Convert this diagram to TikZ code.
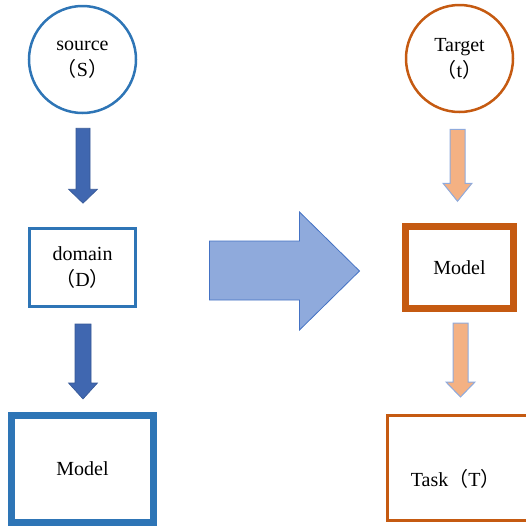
\documentclass[tikz,border=0pt]{standalone}
\usepackage{fontspec}
\setmainfont{Liberation Serif}
\newfontfamily\cjk{Noto Sans CJK SC}
\usetikzlibrary{calc}

\definecolor{srcblue}{HTML}{2E75B6}
\definecolor{darkarrow}{HTML}{4067B0}
\definecolor{bigarrow}{HTML}{8FAADC}
\definecolor{bigedge}{HTML}{4472C4}
\definecolor{tgtorange}{HTML}{C55A11}
\definecolor{lightorange}{HTML}{F4B183}

\newcommand{\lp}{{\cjk （}}
\newcommand{\rp}{{\cjk ）}}

\tikzset{
  every node/.style={font=\fontsize{20}{26}\selectfont, align=center},
  circ/.style={circle, draw, line width=2.5pt, minimum size=107pt, inner sep=0pt},
  thinbox/.style={rectangle, draw, line width=3pt, inner sep=0pt},
  thickbox/.style={rectangle, draw, line width=7pt, inner sep=0pt},
  darrow/.style={fill=darkarrow, draw=darkarrow!85!black, line width=0.6pt},
  oarrow/.style={fill=lightorange, draw=bigarrow, line width=1pt},
  transfer/.style={fill=bigarrow, draw=bigedge, line width=0.8pt},
}

\begin{document}
\begin{tikzpicture}[x=1pt, y=-1pt]
    \useasboundingbox (0,0) rectangle (526,528);
    \clip (0,0) rectangle (526,528);

    % left column
    \node[circ, draw=srcblue] (source) at (82.5,59.5) {source\\\lp S\rp};
    \node[thinbox, draw=srcblue, minimum width=106pt, minimum height=78pt] (domain) at (82.5,267.5) {domain\\\lp D\rp};
    \node[thickbox, draw=srcblue, minimum width=142pt, minimum height=107pt] (srcmodel) at (82.5,469) {Model};

    % right column
    \node[circ, draw=tgtorange] (target) at (459.5,58.5) {Target\\\lp t\rp};
    \node[thickbox, draw=tgtorange, minimum width=108pt, minimum height=82pt] (tgtmodel) at (459.5,267.5) {Model};
    \node[thinbox, draw=tgtorange, minimum width=152.5pt, minimum height=105pt,
          label={[name=tasklabel, xshift=-8pt, yshift=-11pt]center:Task\lp T\rp}] (task) at (463.75,468) {};

    % arrow starts
    \coordinate (a1) at ($(source.south)+(0.5,14)$);
    \coordinate (a2) at ($(domain.south)+(0.5,16)$);
    \coordinate (b1) at ($(target.south)+(-2,16)$);
    \coordinate (b2) at ($(tgtmodel.south)+(1,11)$);
    \coordinate (big) at ($(domain.east)!0.5!(tgtmodel.west)+(-60,-26.5)$);

    \draw[darrow] (a1) ++(-7,0) -- ++(14,0) -- ++(0,61) -- ++(7.5,0) -- ++(-14.5,14) -- ++(-14.5,-14) -- ++(7.5,0) -- cycle;
    \draw[darrow] (a2) ++(-8,0) -- ++(16,0) -- ++(0,59) -- ++(6.5,0) -- ++(-14.5,16) -- ++(-14.5,-16) -- ++(6.5,0) -- cycle;

    \draw[oarrow] (b1) ++(-7.5,0) -- ++(15,0) -- ++(0,54) -- ++(7,0) -- ++(-14.5,18) -- ++(-14.5,-18) -- ++(7,0) -- cycle;
    \draw[oarrow] (b2) ++(-7.5,0) -- ++(15,0) -- ++(0,59) -- ++(7,0) -- ++(-14.5,15) -- ++(-14.5,-15) -- ++(7,0) -- cycle;

    \draw[transfer] (big) -- ++(90,0) -- ++(0,-29) -- ++(60,59) -- ++(-60,59) -- ++(0,-30) -- ++(-90,0) -- cycle;

\end{tikzpicture}
\end{document}
